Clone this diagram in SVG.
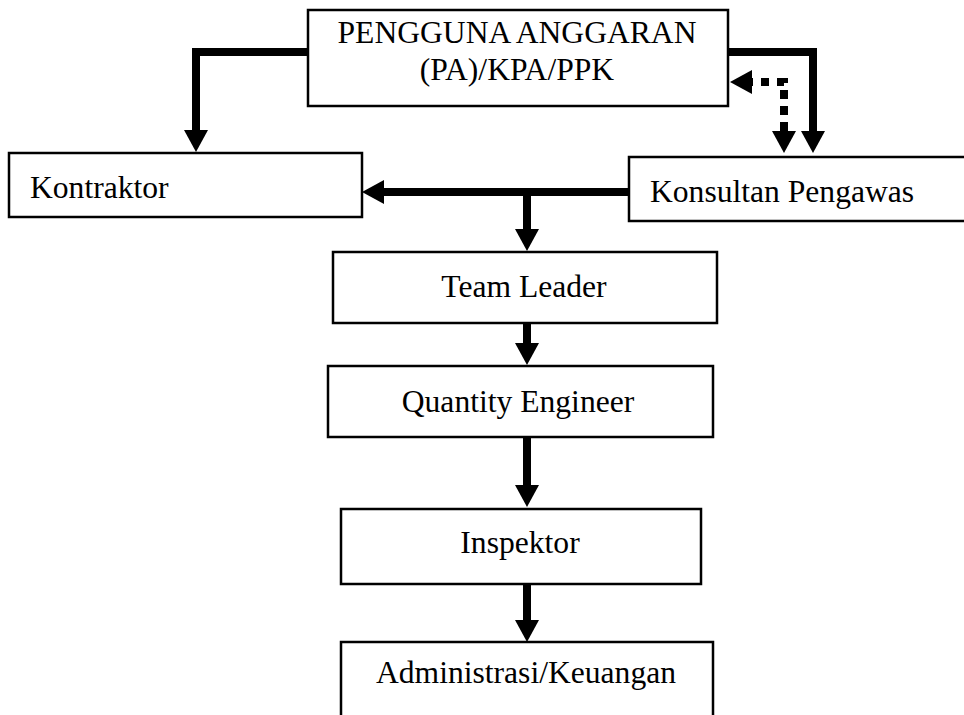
<svg xmlns="http://www.w3.org/2000/svg" width="964" height="715" viewBox="0 0 964 715">
<style>
.box{fill:#fff;stroke:#000;stroke-width:2.5}
.t{font-family:"Liberation Serif","Times New Roman",serif;font-size:31.6px;fill:#000}
.c{fill:none;stroke:#000;stroke-width:8}
.d{fill:none;stroke:#000;stroke-width:8;stroke-dasharray:8 8}
</style>
<defs>
<marker id="ah" viewBox="0 -12 22 24" markerWidth="22" markerHeight="24" refX="0" refY="0" orient="auto" markerUnits="userSpaceOnUse">
<path d="M0,-12 L22,0 L0,12 Z" fill="#000"/>
</marker>
</defs>
<rect width="964" height="715" fill="#fff"/>
<g id="connectors">
<path class="c" d="M308,52 H196 V130" marker-end="url(#ah)"/>
<path class="c" d="M728,52 H813 V131" marker-end="url(#ah)"/>
<path class="d" d="M784,131 V82 H752" marker-end="url(#ah)"/>
<path class="d" d="M784,90 V131" marker-end="url(#ah)"/>
<path class="c" d="M629,192 H384" marker-end="url(#ah)"/>
<path class="c" d="M527,192 V229" marker-end="url(#ah)"/>
<path class="c" d="M527,324 V343" marker-end="url(#ah)"/>
<path class="c" d="M527,438 V485" marker-end="url(#ah)"/>
<path class="c" d="M527,585 V620" marker-end="url(#ah)"/>
</g>
<g id="pa">
<rect class="box" x="308" y="10" width="420" height="96"/>
<text class="t" x="517" y="43" text-anchor="middle">PENGGUNA ANGGARAN</text>
<text class="t" x="517" y="80" text-anchor="middle">(PA)/KPA/PPK</text>
</g>
<g id="kontraktor">
<rect class="box" x="9" y="153" width="353" height="64"/>
<text class="t" x="30" y="198">Kontraktor</text>
</g>
<g id="konsultan">
<rect class="box" x="629" y="157" width="345" height="64"/>
<text class="t" x="650" y="202">Konsultan Pengawas</text>
</g>
<g id="teamleader">
<rect class="box" x="333" y="252" width="384" height="71"/>
<text class="t" x="524" y="297" text-anchor="middle">Team Leader</text>
</g>
<g id="qe">
<rect class="box" x="328" y="366" width="385" height="71"/>
<text class="t" x="518" y="412" text-anchor="middle">Quantity Engineer</text>
</g>
<g id="inspektor">
<rect class="box" x="341" y="509" width="360" height="75"/>
<text class="t" x="520" y="553" text-anchor="middle">Inspektor</text>
</g>
<g id="admin">
<rect class="box" x="341" y="642" width="372" height="90"/>
<text class="t" x="526" y="683" text-anchor="middle">Administrasi/Keuangan</text>
</g>
</svg>
